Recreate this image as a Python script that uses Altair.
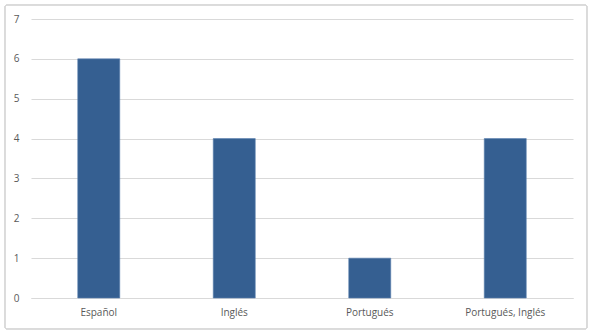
import altair as alt
import pandas as pd

categories = ["Español", "Inglés", "Portugués", "Portugués, Inglés"]
values = [6, 4, 1, 4]

df = pd.DataFrame({"cat": categories, "val": values})

bars = alt.Chart(df).mark_bar(color="#355F91", stroke="#5B7FAE", strokeWidth=0.6).encode(
    x=alt.X("cat:N", sort=categories, title=None,
            scale=alt.Scale(paddingInner=0.69, paddingOuter=0.345),
            axis=alt.Axis(labelAngle=0, labelPadding=9, ticks=False, domainColor="#D9D9D9",
                          labelColor="#595959", labelFontSize=10, labelFont="Open Sans")),
    y=alt.Y("val:Q", title=None,
            scale=alt.Scale(domain=[0, 7]),
            axis=alt.Axis(values=list(range(8)), ticks=False, domain=False, gridColor="#D9D9D9",
                          labelPadding=12, labelColor="#595959", labelFontSize=10, labelFont="Open Sans")),
)

border = alt.Chart(df).mark_rect(fill=None, stroke="#D9D9D9", strokeWidth=1, cornerRadius=2, clip=False).encode(
    x=alt.value(-26), x2=alt.value(556), y=alt.value(-14), y2=alt.value(310)
)

chart = alt.layer(border, bars).properties(
    width=542, height=279,
    autosize=alt.AutoSizeParams(type="none"),
    padding={"left": 31, "top": 19, "right": 22, "bottom": 38},
    background="white",
).configure_view(stroke=None)

chart.save("out.html", embed_options={"renderer": "svg", "actions": False})
